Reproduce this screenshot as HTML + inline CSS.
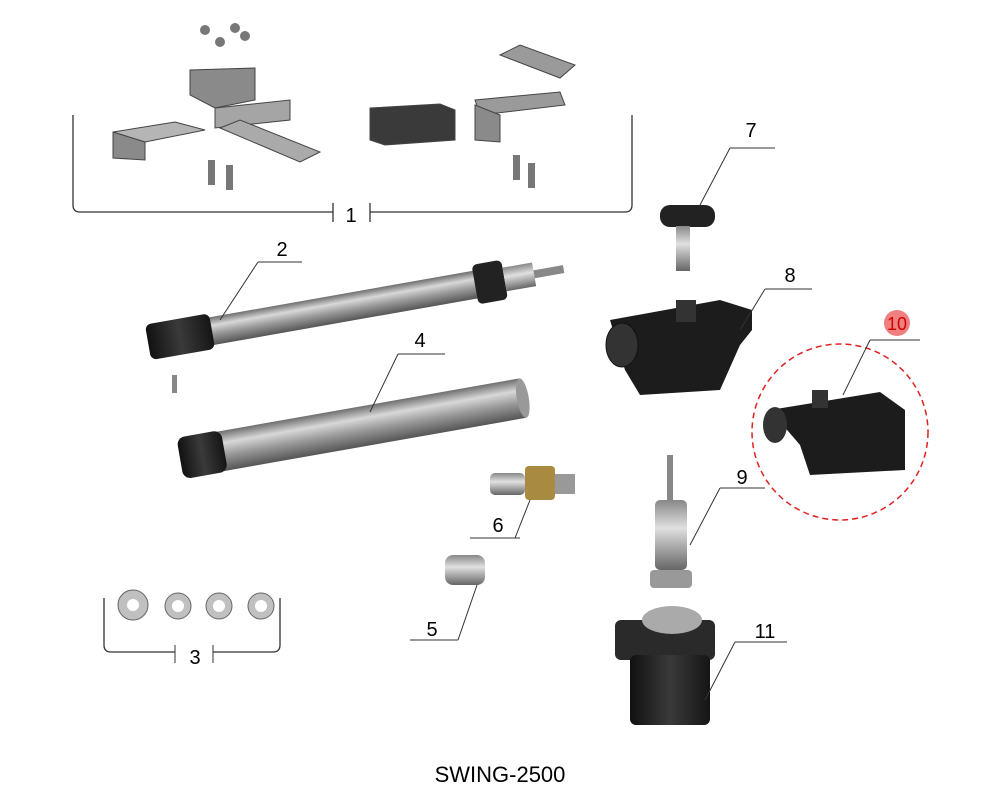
<!DOCTYPE html>
<html><head><meta charset="utf-8"><style>
body{margin:0;background:#fff;width:1000px;height:800px;overflow:hidden}
svg{display:block}
text{font-family:"Liberation Sans",Arial,sans-serif}
</style></head><body>
<svg width="1000" height="800" viewBox="0 0 1000 800" xmlns="http://www.w3.org/2000/svg">
<defs>
<linearGradient id="tube" x1="0" y1="0" x2="0" y2="1">
<stop offset="0" stop-color="#6e6e6e"/><stop offset=".3" stop-color="#d8d8d8"/><stop offset=".6" stop-color="#9a9a9a"/><stop offset="1" stop-color="#555"/></linearGradient>
<linearGradient id="blk" x1="0" y1="0" x2="1" y2="0">
<stop offset="0" stop-color="#111"/><stop offset=".5" stop-color="#3a3a3a"/><stop offset="1" stop-color="#151515"/></linearGradient>
<linearGradient id="met" x1="0" y1="0" x2="0" y2="1">
<stop offset="0" stop-color="#888"/><stop offset=".4" stop-color="#e0e0e0"/><stop offset="1" stop-color="#666"/></linearGradient>
</defs>
<rect width="1000" height="800" fill="#fff"/>

<!-- bracket 1 -->
<path d="M73,115 V205 Q73,212 80,212 H333 M370,212 H625 Q632,212 632,205 V115" fill="none" stroke="#333" stroke-width="1.3"/>
<line x1="333" y1="203" x2="333" y2="222" stroke="#333" stroke-width="1.3"/>
<line x1="370" y1="203" x2="370" y2="222" stroke="#333" stroke-width="1.3"/>
<text x="351" y="222" font-size="20" text-anchor="middle">1</text>

<!-- brackets set -->
<g fill="#8a8a8a" stroke="#444" stroke-width="1">
<path d="M190,70 L255,68 L255,100 L215,108 L190,95 Z"/>
<path d="M215,108 L290,100 L290,120 L215,128 Z" fill="#a5a5a5"/>
<path d="M113,132 L175,122 L205,130 L145,142 Z" fill="#b5b5b5"/>
<path d="M113,132 L113,158 L145,160 L145,142 Z"/>
<path d="M220,128 L240,120 L320,152 L300,162 Z" fill="#aaa"/>
<path d="M370,108 L440,104 L455,110 L455,140 L385,145 L370,140 Z" fill="#3a3a3a"/>
<path d="M475,100 L560,92 L565,105 L480,115 Z" fill="#9a9a9a"/>
<path d="M475,105 L475,140 L500,142 L500,115 Z"/>
<path d="M500,55 L520,45 L575,65 L560,78 Z" fill="#9a9a9a"/>
</g>
<g fill="#777"><circle cx="205" cy="30" r="5"/><circle cx="220" cy="42" r="5"/><circle cx="235" cy="28" r="5"/><circle cx="245" cy="36" r="5"/>
<rect x="208" y="160" width="7" height="25"/><rect x="226" y="165" width="7" height="25"/><rect x="513" y="155" width="7" height="25"/><rect x="528" y="163" width="7" height="25"/></g>

<!-- tube 2 -->
<g transform="translate(150,342) rotate(-10)">
<rect x="0" y="-14" width="345" height="28" fill="url(#tube)"/>
<rect x="-2" y="-18" width="65" height="36" rx="6" fill="url(#blk)"/>
<rect x="330" y="-20" width="30" height="40" rx="5" fill="#222"/>
<rect x="360" y="-12" width="30" height="24" fill="url(#met)"/>
<rect x="390" y="-4" width="30" height="8" fill="#888"/>
</g>
<rect x="172" y="375" width="5" height="18" fill="#888"/>
<line x1="220" y1="320" x2="258" y2="262" stroke="#333"/><line x1="258" y1="262" x2="302" y2="262" stroke="#333"/>
<text x="282" y="256" font-size="20" text-anchor="middle">2</text>

<!-- tube 4 -->
<g transform="translate(183,458) rotate(-10)">
<rect x="0" y="-20" width="345" height="40" fill="url(#tube)"/>
<ellipse cx="345" cy="0" rx="6" ry="20" fill="#999"/>
<rect x="-3" y="-21" width="45" height="42" rx="8" fill="url(#blk)"/>
</g>
<line x1="370" y1="412" x2="398" y2="354" stroke="#333"/><line x1="398" y1="354" x2="445" y2="354" stroke="#333"/>
<text x="420" y="347" font-size="20" text-anchor="middle">4</text>

<!-- 6 gear -->
<rect x="490" y="473" width="35" height="22" rx="5" fill="url(#met)"/>
<rect x="525" y="466" width="30" height="34" rx="4" fill="#a88a40"/>
<rect x="555" y="474" width="20" height="20" fill="#999"/>
<line x1="530" y1="500" x2="515" y2="538" stroke="#333"/><line x1="470" y1="538" x2="520" y2="538" stroke="#333"/>
<text x="498" y="532" font-size="20" text-anchor="middle">6</text>

<!-- 5 -->
<rect x="445" y="555" width="40" height="30" rx="8" fill="url(#met)"/>
<line x1="477" y1="585" x2="458" y2="640" stroke="#333"/><line x1="410" y1="640" x2="458" y2="640" stroke="#333"/>
<text x="432" y="636" font-size="20" text-anchor="middle">5</text>

<!-- 3 washers -->
<path d="M104,598 V645 Q104,652 111,652 H175 M213,652 H273 Q280,652 280,645 V598" fill="none" stroke="#333" stroke-width="1.3"/>
<line x1="175" y1="645" x2="175" y2="663" stroke="#333"/><line x1="213" y1="645" x2="213" y2="663" stroke="#333"/>
<text x="195" y="664" font-size="20" text-anchor="middle">3</text>
<g fill="#c0c0c0" stroke="#666"><circle cx="133" cy="605" r="15"/><circle cx="178" cy="606" r="13"/><circle cx="219" cy="606" r="13"/><circle cx="261" cy="606" r="13"/></g>
<g fill="#fff"><circle cx="133" cy="605" r="6"/><circle cx="178" cy="606" r="6"/><circle cx="219" cy="606" r="6"/><circle cx="261" cy="606" r="6"/></g>

<!-- 7 key -->
<rect x="660" y="205" width="55" height="22" rx="10" fill="#222"/>
<rect x="676" y="226" width="14" height="45" fill="url(#met)"/>
<line x1="700" y1="205" x2="730" y2="148" stroke="#333"/><line x1="730" y1="148" x2="775" y2="148" stroke="#333"/>
<text x="751" y="137" font-size="20" text-anchor="middle">7</text>

<!-- 8 housing -->
<path d="M610,320 L720,300 L752,310 L752,330 L740,345 L720,390 L640,395 L625,370 Z" fill="#1c1c1c"/>
<ellipse cx="622" cy="345" rx="16" ry="22" fill="#333" stroke="#111"/>
<rect x="676" y="300" width="20" height="22" fill="#333"/>
<line x1="740" y1="330" x2="765" y2="289" stroke="#333"/><line x1="765" y1="289" x2="812" y2="289" stroke="#333"/>
<text x="790" y="282" font-size="20" text-anchor="middle">8</text>

<!-- 10 -->
<circle cx="840" cy="432" r="88" fill="none" stroke="#e02020" stroke-width="1.5" stroke-dasharray="6,4"/>
<path d="M770,410 L880,392 L905,410 L905,470 L810,475 L800,445 Z" fill="#1c1c1c"/>
<ellipse cx="775" cy="425" rx="12" ry="18" fill="#333"/>
<rect x="812" y="390" width="16" height="18" fill="#333"/>
<line x1="843" y1="395" x2="870" y2="340" stroke="#333"/><line x1="870" y1="340" x2="920" y2="340" stroke="#333"/>
<circle cx="897" cy="323" r="13" fill="#f08080"/>
<text x="897" y="330" font-size="18" text-anchor="middle" fill="#c00">10</text>

<!-- 9 -->
<rect x="667" y="455" width="6" height="45" fill="#888"/>
<rect x="655" y="500" width="32" height="70" rx="5" fill="url(#met)"/>
<rect x="650" y="570" width="42" height="18" rx="4" fill="#999"/>
<line x1="690" y1="545" x2="720" y2="488" stroke="#333"/><line x1="720" y1="488" x2="765" y2="488" stroke="#333"/>
<text x="742" y="484" font-size="20" text-anchor="middle">9</text>

<!-- 11 -->
<rect x="615" y="620" width="100" height="40" rx="6" fill="#2a2a2a"/>
<ellipse cx="672" cy="620" rx="30" ry="14" fill="#aaa"/>
<rect x="630" y="655" width="80" height="70" rx="6" fill="url(#blk)"/>
<line x1="705" y1="700" x2="735" y2="642" stroke="#333"/><line x1="735" y1="642" x2="787" y2="642" stroke="#333"/>
<text x="765" y="638" font-size="20" text-anchor="middle">11</text>

<text x="500" y="782" font-size="22" text-anchor="middle">SWING-2500</text>
</svg>
</body></html>
